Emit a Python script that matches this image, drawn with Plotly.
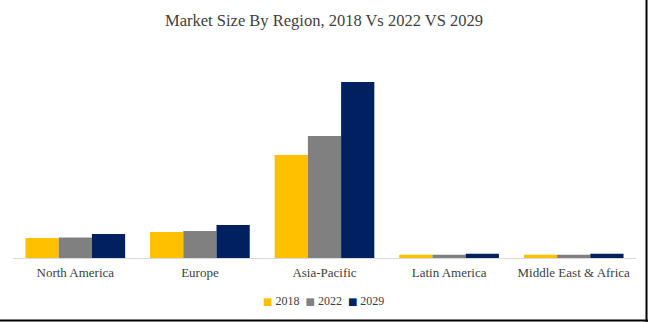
import plotly.graph_objects as go

categories = ["North America", "Europe", "Asia-Pacific", "Latin America", "Middle East & Africa"]
years = ["2018", "2022", "2029"]
v2018 = [20, 26, 103, 3.3, 3.3]
v2022 = [20.5, 27, 122, 3.3, 3.3]
v2029 = [24, 33, 176, 4.3, 4.3]
colors = ["#FFC000", "#808080", "#002060"]

fig = go.Figure()
for name, vals, c in zip(years, [v2018, v2022, v2029], colors):
    fig.add_trace(go.Bar(x=categories, y=vals, name=name, marker=dict(color=c, line=dict(width=0))))

# compact legend written as text with coloured squares
legend_parts = []
for name, c in zip(years, colors):
    legend_parts.append(
        f"<span style='color:{c};font-family:DejaVu Sans;font-size:10px'>■</span> {name}"
    )
legend_text = "  ".join(legend_parts)

fig.update_layout(
    width=648, height=322,
    margin=dict(l=13, r=12, t=60, b=64, autoexpand=False),
    paper_bgcolor="white", plot_bgcolor="white",
    barmode="group", bargap=0.2, bargroupgap=0,
    font=dict(family="Liberation Serif", color="#404040"),
    title=dict(text="Market Size By Region, 2018 Vs 2022 VS 2029", x=0.5, xanchor="center",
               y=1 - 20 / 322, yref="container", yanchor="middle",
               font=dict(size=16.5, color="#404040", family="Liberation Serif")),
    xaxis=dict(showline=True, linecolor="#D9D9D9", linewidth=1, ticks="", automargin=False,
               ticklabelstandoff=2, tickfont=dict(size=13, color="#404040")),
    yaxis=dict(range=[0, 198], visible=False, showgrid=False),
    showlegend=False,
    annotations=[
        dict(text=legend_text, xref="paper", yref="paper", x=(323 - 13) / 623, xanchor="center",
             y=(258 - 301) / 198, yanchor="middle", showarrow=False,
             font=dict(size=12, color="#404040", family="Liberation Serif")),
    ],
    shapes=[
        dict(type="line", xref="paper", yref="paper", x0=(646.5 - 13) / 623, x1=(646.5 - 13) / 623,
             y0=(258 - 0) / 198, y1=(258 - 322) / 198, line=dict(color="black", width=2)),
        dict(type="line", xref="paper", yref="paper", x0=-13 / 623, x1=(648 - 13) / 623,
             y0=(258 - 320.5) / 198, y1=(258 - 320.5) / 198, line=dict(color="black", width=2)),
    ],
)

fig.write_html("out.html")
